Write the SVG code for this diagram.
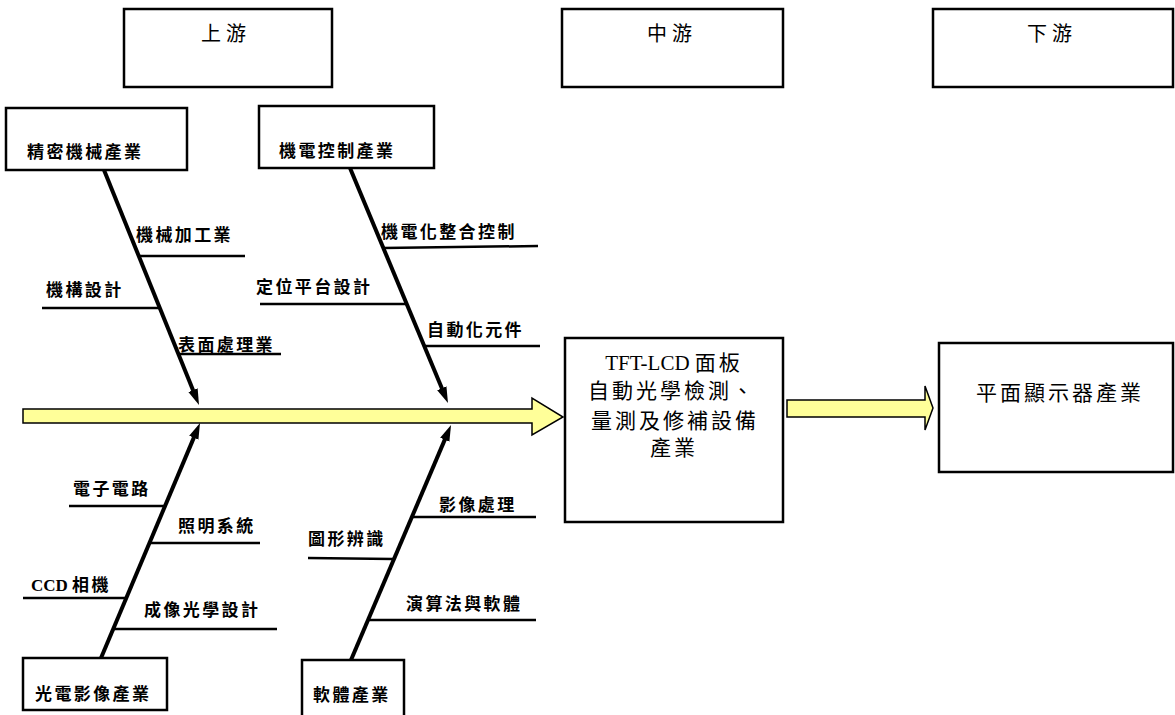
<svg xmlns="http://www.w3.org/2000/svg" width="1175" height="715" viewBox="0 0 1175 715">
<defs>
<style>
.box{fill:#fff;stroke:#000;stroke-width:2.5}
.hdr{font-family:'Liberation Serif','Noto Sans CJK TC',serif;font-size:20px;letter-spacing:5px;fill:#000}
.big{font-family:'Liberation Serif','Noto Sans CJK TC',serif;font-size:21px;letter-spacing:3px;fill:#000}
.lbl{font-family:'Liberation Serif','Noto Sans CJK TC',serif;font-size:17px;font-weight:bold;letter-spacing:2.4px;fill:#000}
.lat{letter-spacing:0}
.bone{stroke:#000;stroke-width:4;fill:none}
.br{stroke:#000;stroke-width:2.5;fill:none}
.flow{fill:#FFFF99;stroke:#000;stroke-width:1.5}
</style>
<marker id="ah" markerUnits="userSpaceOnUse" markerWidth="18" markerHeight="12" viewBox="0 -6 18 12" refX="8" refY="0" orient="auto">
<path d="M0,-5 L16,0 L0,5 z" fill="#000"/>
</marker>
</defs>
<rect width="1175" height="715" fill="#fff"/>

<g id="upstream"><rect class="box" x="124" y="9" width="208" height="78"/><text class="hdr" x="201" y="41">上游</text></g>
<g id="midstream"><rect class="box" x="562" y="9" width="221" height="78"/><text class="hdr" x="647" y="41">中游</text></g>
<g id="downstream"><rect class="box" x="933" y="9" width="240" height="78"/><text class="hdr" x="1027" y="41">下游</text></g>

<g id="precision"><rect class="box" x="6" y="108" width="181" height="62"/><text class="lbl" x="27" y="158">精密機械產業</text></g>
<g id="mechatronics"><rect class="box" x="259" y="106" width="175" height="62"/><text class="lbl" x="279" y="157">機電控制產業</text></g>
<g id="optoelectronic"><rect class="box" x="23" y="658" width="144" height="52"/><text class="lbl" x="35" y="700">光電影像產業</text></g>
<g id="software"><rect class="box" x="302" y="660" width="102" height="62"/><text class="lbl" x="313" y="701">軟體產業</text></g>

<g id="aoi">
<rect class="box" x="565" y="338" width="218" height="184"/>
<text class="big" text-anchor="middle" x="674" y="370"><tspan class="lat">TFT-LCD </tspan>面板</text>
<text class="big" text-anchor="middle" x="672" y="398">自動光學檢測、</text>
<text class="big" text-anchor="middle" x="675" y="428">量測及修補設備</text>
<text class="big" text-anchor="middle" x="674" y="455">產業</text>
</g>
<g id="fpd"><rect class="box" x="939" y="343" width="234" height="129"/><text class="big" text-anchor="middle" x="1060" y="400">平面顯示器產業</text></g>

<g id="connectors">
<polygon class="flow" points="23,409 532,409 532,398 563,417 532,435 532,423 23,423"/>
<polygon class="flow" points="787,400 925,400 925,386 933,408 925,430 925,417 787,417"/>
<line class="bone" x1="104" y1="170" x2="196" y2="397.6" marker-end="url(#ah)"/>
<line class="bone" x1="350" y1="168" x2="444.9" y2="395.6" marker-end="url(#ah)"/>
<line class="bone" x1="101" y1="658" x2="196.9" y2="430.4" marker-end="url(#ah)"/>
<line class="bone" x1="351" y1="660" x2="447.9" y2="432.4" marker-end="url(#ah)"/>
<line class="br" x1="138" y1="256" x2="245" y2="256"/>
<line class="br" x1="42" y1="308" x2="159" y2="308"/>
<line class="br" x1="178" y1="354" x2="281" y2="354"/>
<line class="br" x1="383" y1="248" x2="538" y2="246"/>
<line class="br" x1="260" y1="304" x2="406" y2="304"/>
<line class="br" x1="424" y1="346" x2="540" y2="346"/>
<line class="br" x1="69" y1="506" x2="164" y2="506"/>
<line class="br" x1="149" y1="543" x2="260" y2="543"/>
<line class="br" x1="308" y1="558" x2="393" y2="559"/>
<line class="br" x1="412" y1="517" x2="536" y2="517"/>
<line class="br" x1="23" y1="598" x2="125" y2="598"/>
<line class="br" x1="112" y1="629" x2="277" y2="629"/>
<line class="br" x1="367" y1="620" x2="536" y2="620"/>
</g>

<g id="labels">
<text class="lbl" x="136" y="241">機械加工業</text>
<text class="lbl" x="46" y="296">機構設計</text>
<text class="lbl" x="178" y="351">表面處理業</text>
<text class="lbl" x="381" y="238">機電化整合控制</text>
<text class="lbl" x="256" y="293">定位平台設計</text>
<text class="lbl" x="427" y="336">自動化元件</text>
<text class="lbl" x="73" y="495">電子電路</text>
<text class="lbl" x="178" y="532">照明系統</text>
<text class="lbl" x="308" y="545">圖形辨識</text>
<text class="lbl" x="439" y="511">影像處理</text>
<text class="lbl" x="31" y="591"><tspan class="lat">CCD </tspan>相機</text>
<text class="lbl" x="144" y="616">成像光學設計</text>
<text class="lbl" x="406" y="610">演算法與軟體</text>
</g>
</svg>
